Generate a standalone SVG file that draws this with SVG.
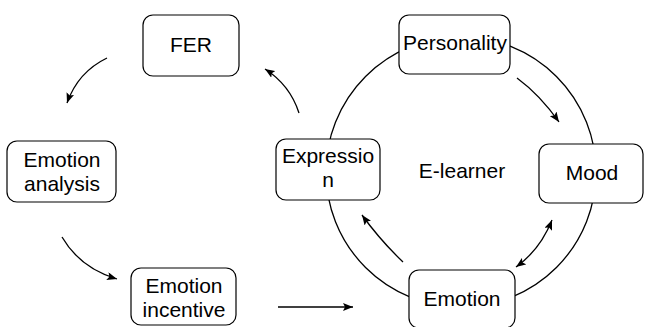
<svg xmlns="http://www.w3.org/2000/svg" width="645" height="327" viewBox="0 0 645 327">
<style>
.box{fill:#fff;stroke:#000;stroke-width:1.2}
.t{font-family:"Liberation Sans",Arial,sans-serif;font-size:21px;fill:#000;text-anchor:middle}
.c{fill:none;stroke:#000;stroke-width:1.3}
</style>
<defs>
<marker id="ah" viewBox="0 0 10 8" refX="10" refY="4" markerWidth="10" markerHeight="8" markerUnits="userSpaceOnUse" orient="auto-start-reverse">
<path d="M0,0 L10,4 L0,8 L2,4 Z" fill="#000"/>
</marker>
</defs>
<rect width="645" height="327" fill="#fff"/>
<circle cx="461" cy="172" r="135" class="c"/>
<g id="connectors">
<path class="c" d="M107,58 Q78,72 67,103" marker-end="url(#ah)"/>
<path class="c" d="M299,113 Q290,85 265,69" marker-end="url(#ah)"/>
<path class="c" d="M62,237 Q80,268 117,279" marker-end="url(#ah)"/>
<path class="c" d="M278,307 L353,307" marker-end="url(#ah)"/>
<path class="c" d="M517,78 Q540,95 559,122" marker-end="url(#ah)"/>
<path class="c" d="M403,262 Q380,240 362,215" marker-end="url(#ah)"/>
<path class="c" d="M552,220 Q540,250 516,267" marker-start="url(#ah)" marker-end="url(#ah)"/>
</g>
<g id="fer"><rect class="box" x="143" y="15" width="96" height="61" rx="10"/><text class="t" x="191" y="52">FER</text></g>
<g id="analysis"><rect class="box" x="7" y="141" width="109" height="61" rx="10"/><text class="t" x="62" y="167">Emotion</text><text class="t" x="62" y="191">analysis</text></g>
<g id="incentive"><rect class="box" x="131" y="268" width="105" height="57" rx="10"/><text class="t" x="184" y="293">Emotion</text><text class="t" x="184" y="317">incentive</text></g>
<g id="expression"><rect class="box" x="276" y="139" width="104" height="61" rx="10"/><text class="t" x="328" y="163">Expressio</text><text class="t" x="328" y="187">n</text></g>
<g id="personality"><rect class="box" x="399" y="15" width="111" height="59" rx="10"/><text class="t" x="455" y="50">Personality</text></g>
<g id="mood"><rect class="box" x="539" y="144" width="104" height="59" rx="10"/><text class="t" x="592" y="180">Mood</text></g>
<g id="emotion"><rect class="box" x="409" y="270" width="106" height="58" rx="10"/><text class="t" x="462" y="306">Emotion</text></g>
<g id="elearner"><text class="t" x="462" y="178">E-learner</text></g>
</svg>
